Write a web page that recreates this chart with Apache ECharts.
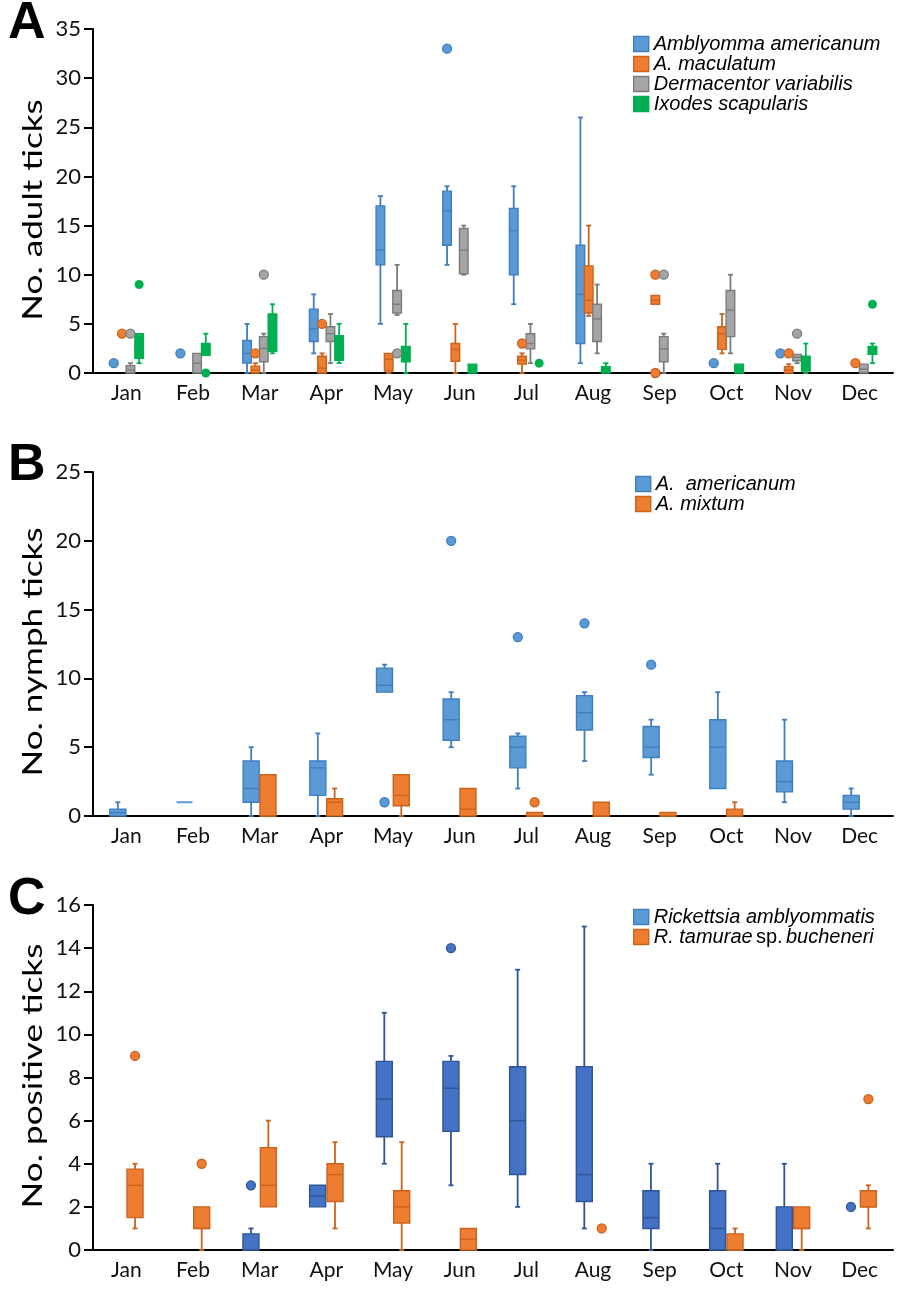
<!DOCTYPE html>
<html>
<head>
<meta charset="utf-8">
<script src="https://cdn.jsdelivr.net/npm/echarts@6/dist/echarts.min.js"></script>
<style>
  html, body { margin: 0; padding: 0; background: #fff; }
  #chart { width: 900px; height: 1295px; }
</style>
</head>
<body>
<div id="chart"></div>
<script>
const months = ['Jan', 'Feb', 'Mar', 'Apr', 'May', 'Jun', 'Jul', 'Aug', 'Sep', 'Oct', 'Nov', 'Dec']

// box = [min, Q1, median, Q3, max] per month, null = no box drawn
// outliers = [monthIndex, value]

// A: adult ticks
const adultAmAmericanum = [null, null, [0, 1, 2, 3.3, 5], [2, 3.2, 4.5, 6.5, 8], [5, 11, 12.5, 17, 18], [11, 13, 16.5, 18.5, 19], [7, 10, 14.5, 16.75, 19], [1, 3, 8, 13, 26], null, null, null, null]
const adultAmAmericanumOut = [[0, 1], [1, 2], [5, 33], [9, 1], [10, 2]]
const adultAmMaculatum = [null, null, [0, 0, 0.3, 0.7, 1], [0, 0, 0.5, 1.7, 2], [0, 0.2, 1.4, 2, 2], [0, 1.2, 2.4, 3, 5], [0, 0.9, 1.3, 1.7, 2], [5.8, 6.1, 7.4, 10.9, 15], [7, 7, 7.4, 7.9, 7.9], [2, 2.4, 4, 4.7, 6], [0, 0, 0.3, 0.65, 0.9], null]
const adultAmMaculatumOut = [[0, 4], [2, 2], [3, 5], [6, 3], [8, 10], [8, 0], [10, 2], [11, 1]]
const adultDeVariabilis = [[0, 0, 0.3, 0.75, 1], [0, 0, 1, 2, 2], [0, 1.15, 2.5, 3.7, 4], [1, 3.2, 4, 4.7, 6], [5.9, 6.1, 7, 8.4, 11], [10, 10.1, 12.5, 14.7, 15], [1, 2.45, 3, 4, 5], [2, 3.2, 5.5, 7, 9], [0, 1.15, 2.45, 3.7, 4], [2, 3.7, 6.4, 8.4, 10], [1, 1.25, 1.6, 1.9, 1.9], [0, 0, 0.4, 0.9, 0.9]]
const adultDeVariabilisOut = [[0, 4], [2, 10], [4, 2], [8, 10], [10, 4]]
const adultIxScapularis = [[1, 1.5, 2.5, 4, 4], [1.8, 1.8, 2.5, 3, 4], [2, 2.2, 4, 6, 7], [1, 1.3, 2.5, 3.8, 5], [0, 1.15, 2, 2.7, 5], [0, 0, 0.5, 0.9, 0.9], null, [0, 0, 0.3, 0.65, 1], null, [0, 0, 0.4, 0.9, 0.9], [0, 0.2, 1, 1.7, 3], [1, 1.9, 2.3, 2.7, 3]]
const adultIxScapularisOut = [[0, 9], [1, 0], [6, 1], [11, 7]]

// B: nymph ticks
const nymphAmericanum = [[0, 0, 0.25, 0.5, 1], [1, 1, 1, 1, 1], [0, 1, 2, 4, 5], [0, 1.5, 3.5, 4, 6], [9, 9, 9.5, 10.75, 11], [5, 5.5, 7, 8.5, 9], [2, 3.5, 5, 5.8, 6], [4, 6.25, 7.5, 8.75, 9], [3, 4.25, 5, 6.5, 7], [2, 2, 5, 7, 9], [1, 1.75, 2.5, 4, 7], [0, 0.5, 1, 1.5, 2]]
const nymphAmericanumOut = [[4, 1], [5, 20], [6, 13], [7, 14], [8, 11]]
const nymphMixtum = [null, null, [0, 0, 0, 3, 3], [0, 0, 1, 1.25, 2], [0, 0.75, 1.5, 3, 3], [0, 0, 0.5, 2, 2], [0, 0, 0, 0.25, 0.25], [0, 0, 0, 1, 1], [0, 0, 0, 0.25, 0.25], [0, 0, 0, 0.5, 1], null, null]
const nymphMixtumOut = [[6, 1]]

// C: positive ticks
const posAmblyommatis = [null, null, [0, 0, 0, 0.75, 1], [2, 2, 2.5, 3, 3], [4, 5.25, 7, 8.75, 11], [3, 5.5, 7.5, 8.75, 9], [2, 3.5, 6, 8.5, 13], [1, 2.25, 3.5, 8.5, 15], [0, 1, 1.5, 2.75, 4], [0, 0, 1, 2.75, 4], [0, 0, 0, 2, 4], null]
const posAmblyommatisOut = [[2, 3], [5, 14], [11, 2]]
const posBucheneri = [[1, 1.5, 3, 3.75, 4], [0, 1, 1, 2, 2], [2, 2, 3, 4.75, 6], [1, 2.25, 3.5, 4, 5], [0, 1.25, 2, 2.75, 5], [0, 0, 0.5, 1, 1], null, null, null, [0, 0, 0, 0.75, 1], [0, 1, 1, 2, 2], [1, 2, 2, 2.75, 3]]
const posBucheneriOut = [[0, 9], [1, 4], [7, 1], [11, 7]]

const blue = { fill: '#5B9BD5', stroke: '#3F7EBF' }
const orange = { fill: '#ED7D31', stroke: '#CB631D' }
const gray = { fill: '#A5A5A5', stroke: '#7C7C7C' }
const green = { fill: '#00B050', stroke: '#00B050' }
const darkBlue = { fill: '#4472C4', stroke: '#2F5597' }

const labelFont = 'Lato'

function boxSeries (name, grid, boxes, col, offset, width) {
  const data = []
  boxes.forEach((b, i) => { if (b) data.push([i].concat(b)) })
  return {
    name: name,
    type: 'custom',
    xAxisIndex: grid,
    yAxisIndex: grid,
    data: data,
    itemStyle: { color: col.fill },
    renderItem: function (params, api) {
      const c = api.value(0)
      const x = api.coord([c, 0])[0] + offset
      const y = v => api.coord([c, v])[1]
      const lo = y(api.value(1))
      const q1 = y(api.value(2))
      const med = y(api.value(3))
      const q3 = y(api.value(4))
      const hi = y(api.value(5))
      const line = { stroke: col.stroke, lineWidth: 1.8 }
      const cap = 2.5
      const kids = []
      if (lo > q1 + 0.5) {
        kids.push({ type: 'line', shape: { x1: x, y1: q1, x2: x, y2: lo }, style: line })
        kids.push({ type: 'line', shape: { x1: x - cap, y1: lo, x2: x + cap, y2: lo }, style: line })
      }
      if (hi < q3 - 0.5) {
        kids.push({ type: 'line', shape: { x1: x, y1: q3, x2: x, y2: hi }, style: line })
        kids.push({ type: 'line', shape: { x1: x - cap, y1: hi, x2: x + cap, y2: hi }, style: line })
      }
      if (q1 - q3 < 0.5) {
        kids.push({ type: 'line', shape: { x1: x - width / 2, y1: q1, x2: x + width / 2, y2: q1 }, style: { stroke: col.fill, lineWidth: 2 } })
      } else {
        kids.push({ type: 'rect', shape: { x: x - width / 2, y: q3, width: width, height: q1 - q3 }, style: { fill: col.fill, stroke: col.stroke, lineWidth: 1.4 } })
        kids.push({ type: 'line', shape: { x1: x - width / 2, y1: med, x2: x + width / 2, y2: med }, style: { stroke: col.stroke, lineWidth: 1.4 } })
      }
      return { type: 'group', children: kids }
    }
  }
}

function outlierSeries (name, grid, points, col, offset) {
  return {
    name: name,
    type: 'scatter',
    xAxisIndex: grid,
    yAxisIndex: grid,
    symbol: 'circle',
    symbolSize: 9,
    symbolOffset: [offset, 0],
    itemStyle: { color: col.fill, borderColor: col.stroke, borderWidth: col === green ? 0 : 1.3, opacity: 1 },
    data: points,
    z: 3
  }
}

function xAxis (grid) {
  return {
    gridIndex: grid,
    type: 'category',
    data: months,
    axisLine: { lineStyle: { color: '#000', width: 2 } },
    axisTick: { alignWithLabel: true, length: 7, lineStyle: { color: '#000', width: 2 } },
    axisLabel: { fontFamily: labelFont, fontSize: 21, color: '#111', margin: 10 }
  }
}

function yAxis (grid, max, interval) {
  return {
    gridIndex: grid,
    type: 'value',
    min: 0,
    max: max,
    interval: interval,
    axisLine: { show: true, lineStyle: { color: '#000', width: 2 } },
    axisTick: { show: true, length: 9, lineStyle: { color: '#000', width: 2 } },
    axisLabel: { fontFamily: labelFont, fontSize: 22, color: '#111', margin: 12 },
    splitLine: { show: false }
  }
}

function legendItem (name, col) {
  return { name: name, icon: 'rect', itemStyle: { color: col.fill, borderColor: col.stroke, borderWidth: 1.4 } }
}

function legend (left, top, items) {
  return {
    orient: 'vertical',
    left: left,
    top: top,
    itemWidth: 15,
    itemHeight: 15,
    itemGap: 0,
    selectedMode: false,
    formatter: function (name) {
      if (name === 'R. tamurae sp. bucheneri') return '{i|R. tamurae} {n|sp.} {i|bucheneri}'
      return '{i|' + name + '}'
    },
    textStyle: {
      rich: {
        i: { fontFamily: 'Liberation Sans', fontStyle: 'italic', fontSize: 20, lineHeight: 21, color: '#000' },
        n: { fontFamily: 'Liberation Sans', fontStyle: 'normal', fontSize: 20, lineHeight: 21, color: '#000' }
      }
    },
    data: items
  }
}

function yTitle (text, cx, cy) {
  return {
    type: 'text',
    x: cx,
    y: cy,
    rotation: Math.PI / 2,
    scaleX: 1.3,
    style: { text: text, font: '27px Lato', fill: '#000', textAlign: 'center', textVerticalAlign: 'middle' }
  }
}

function panelLetter (text, baseline) {
  return {
    type: 'text',
    x: 8,
    y: baseline,
    style: { text: text, font: 'bold 52px "Liberation Sans"', fill: '#000', textAlign: 'left', textVerticalAlign: 'bottom' }
  }
}

const chart = echarts.init(document.getElementById('chart'))
chart.setOption({
  animation: false,
  backgroundColor: '#ffffff',
  grid: [
    { left: 93, right: 7, top: 29, height: 344 },
    { left: 93, right: 7, top: 472, height: 344 },
    { left: 93, right: 7, top: 905, height: 345 }
  ],
  xAxis: [xAxis(0), xAxis(1), xAxis(2)],
  yAxis: [yAxis(0, 35, 5), yAxis(1, 25, 5), yAxis(2, 16, 2)],
  legend: [
    legend(628, 29, [
      legendItem('Amblyomma americanum', blue),
      legendItem('A. maculatum', orange),
      legendItem('Dermacentor variabilis', gray),
      legendItem('Ixodes scapularis', green)
    ]),
    legend(630, 469, [
      legendItem('A.  americanum', blue),
      legendItem('A. mixtum', orange)
    ]),
    legend(628, 902, [
      legendItem('Rickettsia amblyommatis', blue),
      legendItem('R. tamurae sp. bucheneri', orange)
    ])
  ],
  graphic: [
    panelLetter('A', 50),
    panelLetter('B', 492),
    panelLetter('C', 926),
    yTitle('No. adult ticks', 33, 210),
    yTitle('No. nymph ticks', 33, 652),
    yTitle('No. positive ticks', 33, 1076)
  ],
  series: [
    boxSeries('Amblyomma americanum', 0, adultAmAmericanum, blue, -12.6, 8.6),
    boxSeries('A. maculatum', 0, adultAmMaculatum, orange, -4.3, 8.6),
    boxSeries('Dermacentor variabilis', 0, adultDeVariabilis, gray, 4.1, 8.6),
    boxSeries('Ixodes scapularis', 0, adultIxScapularis, green, 12.8, 8.6),
    outlierSeries('Amblyomma americanum', 0, adultAmAmericanumOut, blue, -12.6),
    outlierSeries('A. maculatum', 0, adultAmMaculatumOut, orange, -4.3),
    outlierSeries('Dermacentor variabilis', 0, adultDeVariabilisOut, gray, 4.1),
    outlierSeries('Ixodes scapularis', 0, adultIxScapularisOut, green, 12.8),

    boxSeries('A.  americanum', 1, nymphAmericanum, blue, -8.5, 16),
    boxSeries('A. mixtum', 1, nymphMixtum, orange, 8.3, 16),
    outlierSeries('A.  americanum', 1, nymphAmericanumOut, blue, -8.5),
    outlierSeries('A. mixtum', 1, nymphMixtumOut, orange, 8.3),

    boxSeries('Rickettsia amblyommatis', 2, posAmblyommatis, darkBlue, -8.7, 16),
    boxSeries('R. tamurae sp. bucheneri', 2, posBucheneri, orange, 8.7, 16),
    outlierSeries('Rickettsia amblyommatis', 2, posAmblyommatisOut, darkBlue, -8.7),
    outlierSeries('R. tamurae sp. bucheneri', 2, posBucheneriOut, orange, 8.7)
  ]
})
</script>
</body>
</html>
